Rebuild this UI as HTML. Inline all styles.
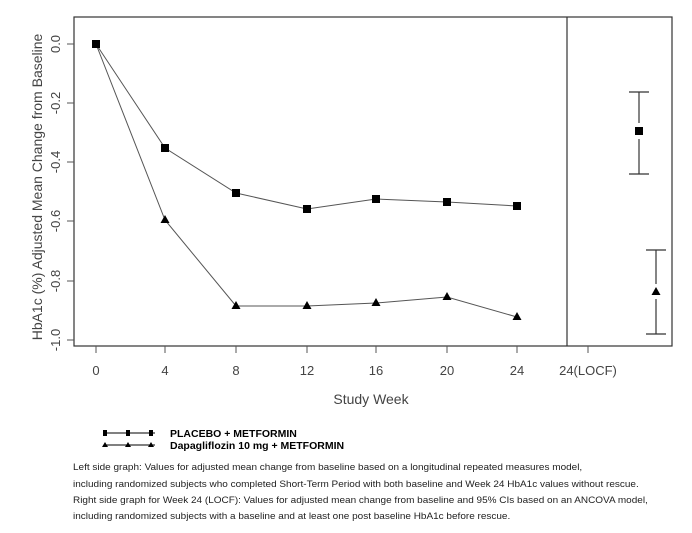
<!DOCTYPE html>
<html><head><style>body{margin:0;background:#fff}</style></head><body>
<svg width="692" height="528" xmlns="http://www.w3.org/2000/svg" font-family="Liberation Sans, sans-serif">
<rect width="692" height="528" fill="#fff"/>
<rect x="74" y="17" width="598" height="329" fill="none" stroke="#333" stroke-width="1.2"/>
<line x1="567" y1="17" x2="567" y2="346" stroke="#333" stroke-width="1.2"/>
<g stroke="#555" stroke-width="1">
<line x1="74" y1="44" x2="67" y2="44"/><line x1="74" y1="103" x2="67" y2="103"/><line x1="74" y1="162" x2="67" y2="162"/><line x1="74" y1="221" x2="67" y2="221"/><line x1="74" y1="281" x2="67" y2="281"/><line x1="74" y1="340" x2="67" y2="340"/>
<line x1="96" y1="346" x2="96" y2="353"/><line x1="165" y1="346" x2="165" y2="353"/><line x1="236" y1="346" x2="236" y2="353"/><line x1="307" y1="346" x2="307" y2="353"/><line x1="376" y1="346" x2="376" y2="353"/><line x1="447" y1="346" x2="447" y2="353"/><line x1="517" y1="346" x2="517" y2="353"/><line x1="588" y1="346" x2="588" y2="353"/>
</g>
<g font-size="13" fill="#444" text-anchor="middle">
<text transform="translate(60,44) rotate(-90)">0.0</text>
<text transform="translate(60,103) rotate(-90)">-0.2</text>
<text transform="translate(60,162) rotate(-90)">-0.4</text>
<text transform="translate(60,221) rotate(-90)">-0.6</text>
<text transform="translate(60,281) rotate(-90)">-0.8</text>
<text transform="translate(60,340) rotate(-90)">-1.0</text>
<text x="96" y="375">0</text><text x="165" y="375">4</text><text x="236" y="375">8</text><text x="307" y="375">12</text><text x="376" y="375">16</text><text x="447" y="375">20</text><text x="517" y="375">24</text><text x="588" y="375">24(LOCF)</text>
<text x="371" y="404" font-size="14">Study Week</text>
<text transform="translate(42,187) rotate(-90)" font-size="14">HbA1c (%) Adjusted Mean Change from Baseline</text>
</g>
<polyline points="96,44 165,148 236,193 307,209 376,199 447,202 517,206" fill="none" stroke="#555" stroke-width="1"/>
<polyline points="96,44 165,220 236,306 307,306 376,303 447,297 517,317" fill="none" stroke="#555" stroke-width="1"/>
<g fill="#000">
<rect x="92" y="40" width="8" height="8"/><rect x="161" y="144" width="8" height="8"/><rect x="232" y="189" width="8" height="8"/><rect x="303" y="205" width="8" height="8"/><rect x="372" y="195" width="8" height="8"/><rect x="443" y="198" width="8" height="8"/><rect x="513" y="202" width="8" height="8"/>
<path d="M165,215l4.5,8h-9z M236,301l4.5,8h-9z M307,301l4.5,8h-9z M376,298l4.5,8h-9z M447,292l4.5,8h-9z M517,312l4.5,8h-9z"/>
<rect x="635" y="127" width="8" height="8"/>
<path d="M656,287l4.5,8h-9z"/>
</g>
<g stroke="#333" stroke-width="1.2">
<line x1="639" y1="92" x2="639" y2="123"/><line x1="639" y1="139" x2="639" y2="174"/><line x1="629" y1="92" x2="649" y2="92"/><line x1="629" y1="174" x2="649" y2="174"/>
<line x1="656" y1="250" x2="656" y2="284"/><line x1="656" y1="299" x2="656" y2="334"/><line x1="646" y1="250" x2="666" y2="250"/><line x1="646" y1="334" x2="666" y2="334"/>
</g>
<g stroke="#000" stroke-width="1"><line x1="105" y1="433" x2="155" y2="433"/><line x1="105" y1="445" x2="155" y2="445"/></g>
<g fill="#000">
<rect x="103" y="430" width="4" height="6"/><rect x="126" y="430" width="4" height="6"/><rect x="149" y="430" width="4" height="6"/>
<path d="M105,442l3,5h-6z M128,442l3,5h-6z M151,442l3,5h-6z"/>
</g>
<g font-size="10" fill="#000" font-weight="bold" transform="translate(170,0) scale(1.05,1)">
<text x="0" y="437">PLACEBO + METFORMIN</text><text x="0" y="449">Dapagliflozin 10 mg + METFORMIN</text>
</g>
<g font-size="9" fill="#222" transform="translate(73,0) scale(1.11,1)">
<text x="0" y="470">Left side graph: Values for adjusted mean change from baseline based on a longitudinal repeated measures model,</text>
<text x="0" y="487">including randomized subjects who completed Short-Term Period with both baseline and Week 24 HbA1c values without rescue.</text>
<text x="0" y="503">Right side graph for Week 24 (LOCF): Values for adjusted mean change from baseline and 95% CIs based on an ANCOVA model,</text>
<text x="0" y="519">including randomized subjects with a baseline and at least one post baseline HbA1c before rescue.</text>
</g>
</svg>
</body></html>
